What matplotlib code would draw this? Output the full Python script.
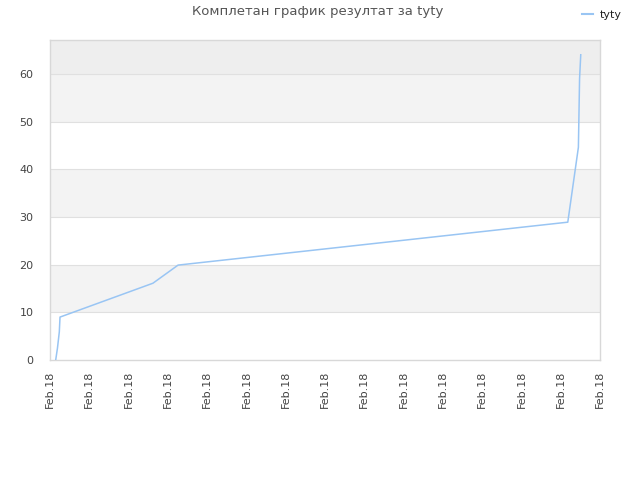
import matplotlib
matplotlib.use("Agg")
import matplotlib.pyplot as plt
from matplotlib.lines import Line2D

# data (x in tick-spacing units, 14 intervals)
x_vals = [0.145, 0.19, 0.237, 0.255, 2.62, 3.26, 13.18, 13.45, 13.48, 13.51]
y_vals = [0.0, 2.5, 5.9, 9.0, 16.1, 19.9, 28.9, 44.6, 59.0, 64.0]
x_ticks = list(range(15))
x_labels = ["Feb.18"] * 15
y_ticks = [0, 10, 20, 30, 40, 50, 60]
series_name = "tyty"
title = "Комплетан график резултат за tyty"

fig = plt.figure(figsize=(6.4, 4.8), dpi=100)
ax = fig.add_axes([50 / 640, 1 - 360 / 480, 550 / 640, 320 / 480])

# alternating background bands
for lo, hi in [(10, 20), (30, 40), (50, 60)]:
    ax.axhspan(lo, hi, color="#f3f3f3", zorder=0, lw=0)
ax.axhspan(60, 70, color="#eeeeee", zorder=0, lw=0)
for yt in y_ticks[1:]:
    ax.axhline(yt, color="#e0e0e0", lw=0.8, zorder=1)

ax.plot(x_vals, y_vals, color="#99c5f3", lw=1.1, zorder=3)

ax.set_xlim(0, 14)
ax.set_ylim(0, 67.1)
ax.set_xticks(x_ticks)
ax.set_xticklabels(x_labels, rotation=90, fontsize=8, color="#444444")
ax.set_yticks(y_ticks)
ax.set_yticklabels([str(v) for v in y_ticks], fontsize=8, color="#444444")
ax.tick_params(length=0, pad=8)
ax.tick_params(axis="y", pad=12)
for s in ax.spines.values():
    s.set_color("#d8d8d8")
    s.set_linewidth(1)

fig.text(318 / 640, 1 - 12 / 480, title, ha="center", va="center",
         fontsize=9.5, color="#555555")

leg = fig.legend(handles=[Line2D([], [], color="#99c5f3", lw=1.5)],
                 labels=[series_name], loc="upper right",
                 bbox_to_anchor=(0.9875, 1.0), frameon=False, fontsize=8,
                 handlelength=1.0, handletextpad=0.6)
for t in leg.get_texts():
    t.set_color("#222222")

fig.savefig("out.png", dpi=100)
